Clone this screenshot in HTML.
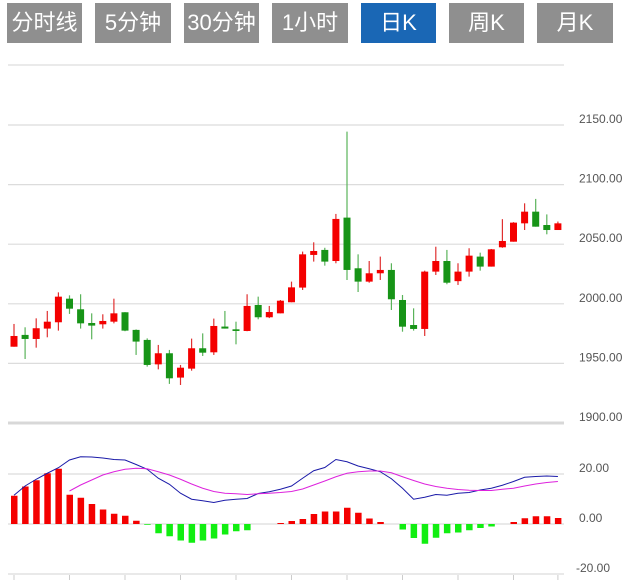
<!DOCTYPE html>
<html><head><meta charset="utf-8">
<style>
body{margin:0;width:628px;height:580px;background:#fff;overflow:hidden;font-family:"Liberation Sans","Noto Sans CJK SC",sans-serif;}
.tab{position:absolute;top:3px;height:40px;background:#8f8f8f;color:#fff;font-size:22px;line-height:40px;text-align:center;}
.tab.on{background:#1a67b5;}
</style></head><body>
<div class="tab" style="left:7px;width:75px">分时线</div>
<div class="tab" style="left:95px;width:76px">5分钟</div>
<div class="tab" style="left:184px;width:75px">30分钟</div>
<div class="tab" style="left:272px;width:76px">1小时</div>
<div class="tab on" style="left:361px;width:75px">日K</div>
<div class="tab" style="left:449px;width:75px">周K</div>
<div class="tab" style="left:537px;width:76px">月K</div>
<svg id="c" width="628" height="580" style="position:absolute;left:0;top:0"></svg>
<script>
const opens=[1964,1973.9,1970.5,1979.2,1984.5,2004.3,1995.4,1983.9,1982.8,1985,1992.9,1978.1,1969.7,1949.2,1958.5,1938.1,1945.6,1962.7,1959.3,1980.9,1978.6,1977.2,1999,1988.7,1992,2001.3,2013.6,2041,2045.2,2035.9,2072.3,2029.8,2018.6,2025.6,2028.4,2003.2,1982.2,1978.9,2027,2035.9,2019,2027,2039.6,2031.2,2047.4,2052.1,2067.5,2077.3,2066.1,2061.9];
const closes=[1973,1970.5,1979.5,1985,2006,1995.9,1983.6,1981.7,1985.6,1992,1977.5,1968.3,1948.7,1958.5,1937.5,1946.4,1962.7,1959,1981.4,1979.2,1977.2,1998.2,1988.7,1993.1,2002.6,2013.8,2041.5,2044.3,2035.4,2071.2,2028.4,2018.6,2025.6,2028.4,2003.8,1980.8,1978.9,2027,2035.9,2017.7,2027,2040.4,2031.2,2045.7,2052.7,2068.1,2077.3,2064.7,2061.9,2067.5];
const highs=[1983.1,1980.3,1987.8,1994,2009.6,2007.1,2008,1992,1991.2,2004.3,1993,1978.5,1971,1965.5,1961.3,1948.7,1970.8,1975.2,1987.6,1994,1985,2008,2006,1998.2,2003.2,2018.6,2043.8,2051.6,2047,2075.4,2144.4,2041.5,2035.9,2039.6,2034,2007.4,1996.2,2027.8,2047.9,2045.2,2034,2046.6,2042.9,2046,2071,2068.5,2084.3,2088,2075,2069];
const lows=[1964,1953.7,1963.2,1971.9,1977.5,1991.5,1979.2,1970.2,1979.2,1983.6,1977,1957.1,1947.3,1945,1932.8,1931.9,1943.9,1956.2,1957.1,1979.2,1966,1977,1987,1988,1992,2001.3,2011.6,2035.4,2032,2034,2020,2009.9,2017.7,2020,1994.8,1976.6,1977.5,1973,2024.2,2016.4,2015.8,2022.8,2027.8,2031.2,2047,2052.1,2061.9,2064.7,2058.3,2061.9];
const hist=[11.3,15,17.5,20.3,22.1,11.7,10.5,8,5.8,4.1,3.3,1.3,-0.3,-3.7,-4.9,-6.6,-7.5,-6.6,-5.8,-4.2,-2.9,-2.5,0,0,0.4,1.2,2,4,5,5,6.5,4.5,2.2,0.8,0,-2.2,-5.6,-7.9,-5.5,-3.7,-3.4,-2.5,-1.6,-1,0,0.8,2.3,3.1,3.1,2.4];
const dif=[11.5,15.2,17.9,20.3,22.5,25.6,26.9,26.8,26.4,25.8,25.6,23.8,21.9,18.3,15.9,12.3,9.9,9.3,8.6,9.5,9.9,10.2,12.2,12.9,13.9,15.2,18.3,21.3,22.6,25.8,24.9,23.2,22.1,20.9,18.1,14.3,9.9,10.7,11.8,11.5,12.3,12.6,13.6,14.3,15.5,17,18.7,19,19.2,19];
const dea=[null,null,null,null,null,13.2,15.6,17.6,19.6,20.9,21.9,22.3,22.1,20.9,19.6,17.9,16,14.3,13,12.3,12.1,11.8,12.1,12.3,12.6,13,14,15.6,17.2,18.9,20.3,20.9,21.2,21.2,20.5,18.9,17.4,16,15,14.3,13.8,13.5,13.4,13.4,13.9,14.3,15.2,16,16.6,17];
const priceTicks=[2150,2100,2050,2000,1950,1900];
const macdTicks=[20,0,-20];

const svg=document.getElementById('c');const NS='http://www.w3.org/2000/svg';
function mk(t,a,p){const e=document.createElementNS(NS,t);for(const k in a)e.setAttribute(k,a[k]);(p||svg).appendChild(e);return e;}
const X=i=>14+i*11.1;
const Y=v=>125+(2150-v)*1.192;
const M=v=>524-v*2.5;
// grid
let g=mk('line',{x1:8,x2:564,y1:65,y2:65,stroke:'#e3e3e3','stroke-width':1.5});


priceTicks.forEach(v=>{
 const y=Y(v);
 const l=mk('line',{x1:8,x2:564,y1:y,y2:y,stroke:v===1900?'#d8d8d8':'#dcdcdc','stroke-width':v===1900?3:1.2});
 
 
 const t=mk('text',{x:579,y:y-2,'font-size':12,fill:'#555'});t.textContent=v.toFixed(2);
 
 
});
macdTicks.forEach(v=>{
 const y=M(v);
 const l=mk('line',{x1:8,x2:564,y1:y,y2:y,stroke:'#dcdcdc','stroke-width':1.2});
 
 
 const t=mk('text',{x:v<0?576:579,y:y-2,'font-size':12,fill:'#555'});t.textContent=v.toFixed(2);
 
 
});
[0,5,10,15,20,25,30,35,40,45,49].forEach(i=>{
 const l=mk('line',{x1:X(i),x2:X(i),y1:575,y2:580,stroke:'#ccc'});
 
 
});
// candles
opens.forEach((o,i)=>{
 const c=closes[i],up=c>=o,col=up?'#f40000':'#179417';
 const w=mk('line',{x1:X(i),x2:X(i),y1:Y(highs[i]),y2:Y(lows[i]),stroke:up?'#e03030':'#5ab35a','stroke-width':1.2});
 
 
 const top=Y(Math.max(o,c)),h=Math.max(1.5,Math.abs(Y(o)-Y(c)));
 const r=mk('rect',{x:X(i)-3.5,y:top,width:7,height:h,fill:col});
 
 
});
// histogram
hist.forEach((v,i)=>{
 if(v===0)return;
 const r=mk('rect',{x:X(i)-3,y:Math.min(M(v),M(0)),width:6.5,height:Math.abs(M(v)-M(0)),fill:v>0?'#f40000':'#11ee11'});
 
 
});
function line(arr,col,name){
 let d='';arr.forEach((v,i)=>{if(v===null)return;d+=(d?'L':'M')+X(i)+' '+M(v);});
 const p=mk('path',{d:d,fill:'none',stroke:col,'stroke-width':1});
 
 
}
line(dif,'#1a1aa8','dif-line');
line(dea,'#dd22dd','dea-line');
</script>
</body></html>
